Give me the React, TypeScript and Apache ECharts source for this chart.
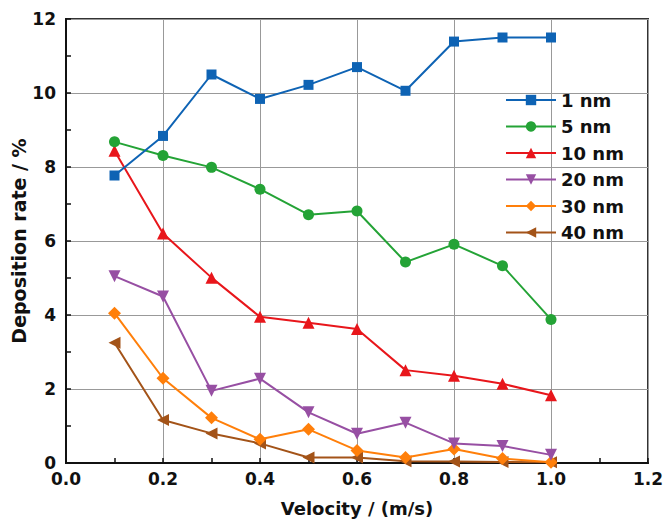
import React, { useEffect, useRef } from "react";
import * as echarts from "echarts";

const velocity = [0.1, 0.2, 0.3, 0.4, 0.5, 0.6, 0.7, 0.8, 0.9, 1.0];
const seriesNames = ["1 nm", "5 nm", "10 nm", "20 nm", "30 nm", "40 nm"];
const nm1 = [7.77, 8.84, 10.5, 9.84, 10.22, 10.7, 10.06, 11.39, 11.5, 11.5];
const nm5 = [8.68, 8.31, 7.99, 7.4, 6.71, 6.81, 5.43, 5.91, 5.33, 3.88];
const nm10 = [8.44, 6.2, 5.01, 3.95, 3.79, 3.62, 2.51, 2.36, 2.14, 1.83];
const nm20 = [5.05, 4.5, 1.95, 2.28, 1.37, 0.79, 1.09, 0.53, 0.46, 0.22];
const nm30 = [4.05, 2.29, 1.22, 0.64, 0.91, 0.34, 0.15, 0.38, 0.12, 0.02];
const nm40 = [3.25, 1.16, 0.8, 0.53, 0.15, 0.15, 0.05, 0.04, 0.03, 0.02];
const allValues = [nm1, nm5, nm10, nm20, nm30, nm40];

const colors = ["#0e63b4", "#24a336", "#e8161b", "#974fa3", "#ff7f0a", "#a35318"];
const symbols = ["rect", "circle", "triangle", "triangle", "diamond", "triangle"];
const rotations = [0, 0, 0, 180, 0, 90];
const sizes = [10, 11, 12, 12, 13, 12];

const FONT = "DejaVu Sans";

export default function App() {
  const ref = useRef<HTMLDivElement>(null);
  useEffect(() => {
    if (!ref.current) return;
    const chart = echarts.init(ref.current, null, { renderer: "svg" });
    const series = allValues.map((vals, i) => ({
      name: seriesNames[i],
      type: "line",
      data: velocity.map((v, j) => [v, vals[j]]),
      symbol: symbols[i],
      symbolRotate: rotations[i],
      symbolSize: sizes[i],
      color: colors[i],
      lineStyle: { width: 2, color: colors[i] },
      itemStyle: { color: colors[i] },
      z: 10 - i,
    }));
    chart.setOption({
      animation: false,
      backgroundColor: "#fff",
      grid: {
        left: 66,
        right: 18,
        top: 19,
        bottom: 60,
        containLabel: false,
        outerBoundsMode: "none",
        show: true,
        borderColor: "#333",
        borderWidth: 2,
      },
      legend: {
        orient: "vertical",
        left: 505,
        top: 91,
        padding: 0,
        itemWidth: 50,
        itemHeight: 13,
        itemGap: 8.5,
        data: seriesNames,
        textStyle: {
          fontFamily: FONT,
          fontWeight: "bold",
          fontSize: 18,
          lineHeight: 18,
          color: "#111",
        },
      },
      xAxis: {
        type: "value",
        min: 0,
        max: 1.2,
        interval: 0.2,
        name: "Velocity / (m/s)",
        nameLocation: "middle",
        nameGap: 36,
        nameMoveOverlap: false,
        nameTextStyle: { fontFamily: FONT, fontWeight: "bold", fontSize: 18, color: "#111" },
        axisLine: { show: true, onZero: false, lineStyle: { color: "#111", width: 2 } },
        axisTick: { show: true, inside: true, length: 5, lineStyle: { color: "#111", width: 1.5 } },
        minorTick: { show: true, splitNumber: 2, length: 5, lineStyle: { color: "#111", width: 1.5 } },
        splitLine: { show: true, lineStyle: { color: "#999", width: 1 } },
        axisLabel: {
          margin: 7,
          fontFamily: FONT,
          fontWeight: "bold",
          fontSize: 17,
          color: "#111",
          formatter: (v: number) => v.toFixed(1),
        },
      },
      yAxis: {
        type: "value",
        min: 0,
        max: 12,
        interval: 2,
        name: "Deposition rate / %",
        nameLocation: "middle",
        nameGap: 38,
        nameMoveOverlap: false,
        nameTextStyle: { fontFamily: FONT, fontWeight: "bold", fontSize: 19, color: "#111" },
        axisLine: { show: true, onZero: false, lineStyle: { color: "#111", width: 2 } },
        axisTick: { show: true, inside: true, length: 5, lineStyle: { color: "#111", width: 1.5 } },
        minorTick: { show: true, splitNumber: 2, length: 5, lineStyle: { color: "#111", width: 1.5 } },
        splitLine: { show: true, lineStyle: { color: "#999", width: 1 } },
        axisLabel: {
          margin: 10,
          fontFamily: FONT,
          fontWeight: "bold",
          fontSize: 17,
          color: "#111",
        },
      },
      series,
    });
    return () => chart.dispose();
  }, []);
  return (
    <div
      ref={ref}
      style={{ position: "absolute", left: 0, top: 0, width: 666, height: 523 }}
    />
  );
}
